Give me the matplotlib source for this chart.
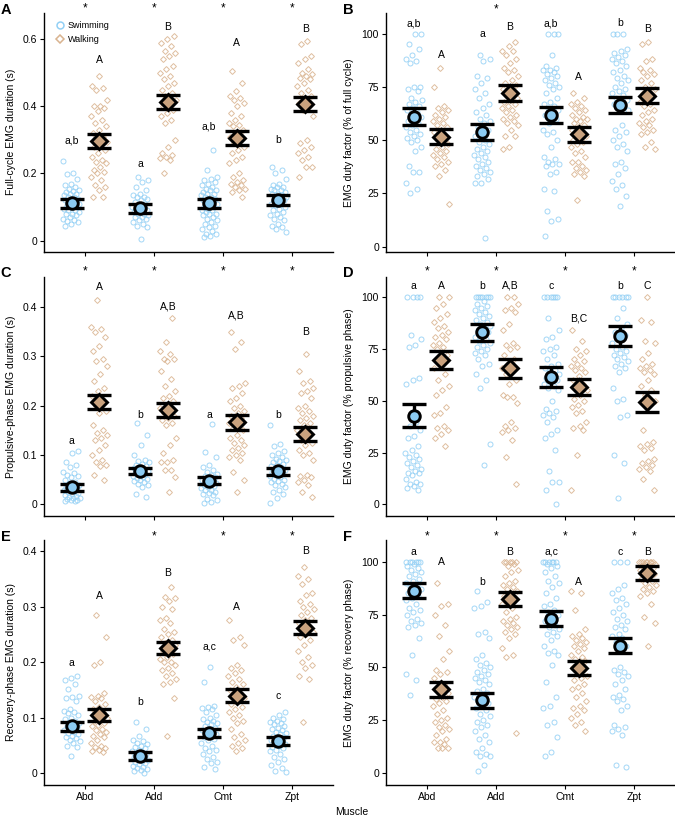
import numpy as np
import matplotlib
matplotlib.use("Agg")
import matplotlib.pyplot as plt
from matplotlib.lines import Line2D

plt.rcParams['font.family'] = ['Liberation Sans', 'DejaVu Sans']

muscles = ["Abd", "Add", "Cmt", "Zpt"]

# ---------------- Panel A: full-cycle EMG duration (s) ----------------
A_swim = [
    [0.237, 0.2, 0.197, 0.185, 0.17, 0.165, 0.16, 0.155, 0.15, 0.148, 0.145, 0.14, 0.14, 0.135, 0.13, 0.13, 0.125,
     0.12, 0.12, 0.118, 0.115, 0.11, 0.11, 0.105, 0.1, 0.1, 0.095, 0.09, 0.09, 0.085, 0.08, 0.08, 0.075, 0.07, 0.065,
     0.06, 0.058, 0.055, 0.05, 0.045],
    [0.19, 0.18, 0.175, 0.16, 0.15, 0.14, 0.135, 0.13, 0.13, 0.125, 0.12, 0.115, 0.11, 0.105, 0.1, 0.1, 0.095, 0.09,
     0.09, 0.085, 0.08, 0.08, 0.075, 0.07, 0.07, 0.065, 0.06, 0.055, 0.05, 0.045, 0.04, 0.005],
    [0.27, 0.21, 0.19, 0.185, 0.18, 0.175, 0.17, 0.165, 0.16, 0.155, 0.15, 0.15, 0.145, 0.14, 0.14, 0.135, 0.13,
     0.13, 0.125, 0.12, 0.12, 0.115, 0.11, 0.11, 0.105, 0.1, 0.1, 0.095, 0.09, 0.09, 0.085, 0.08, 0.08, 0.075, 0.07,
     0.065, 0.06, 0.055, 0.05, 0.045, 0.04, 0.035, 0.03, 0.02, 0.02, 0.015, 0.01],
    [0.22, 0.21, 0.2, 0.185, 0.17, 0.165, 0.16, 0.16, 0.155, 0.15, 0.15, 0.145, 0.14, 0.14, 0.135, 0.13, 0.13, 0.125,
     0.12, 0.12, 0.115, 0.11, 0.11, 0.105, 0.1, 0.095, 0.09, 0.085, 0.08, 0.075, 0.07, 0.065, 0.06, 0.05, 0.045,
     0.04, 0.035, 0.025],
]
A_walk = [
    [0.49, 0.46, 0.455, 0.45, 0.42, 0.40, 0.40, 0.395, 0.385, 0.37, 0.36, 0.35, 0.34, 0.33, 0.32, 0.31, 0.30, 0.295,
     0.29, 0.28, 0.27, 0.26, 0.25, 0.24, 0.235, 0.23, 0.22, 0.21, 0.205, 0.2, 0.19, 0.18, 0.165, 0.16, 0.15, 0.13, 0.13],
    [0.61, 0.6, 0.59, 0.58, 0.565, 0.56, 0.55, 0.54, 0.52, 0.51, 0.5, 0.49, 0.48, 0.47, 0.46, 0.45, 0.44, 0.43, 0.42,
     0.41, 0.40, 0.39, 0.38, 0.37, 0.36, 0.35, 0.30, 0.28, 0.26, 0.255, 0.25, 0.245, 0.24, 0.2],
    [0.505, 0.47, 0.445, 0.43, 0.425, 0.42, 0.41, 0.4, 0.38, 0.37, 0.36, 0.35, 0.345, 0.34, 0.33, 0.32, 0.31, 0.3,
     0.29, 0.28, 0.27, 0.26, 0.25, 0.24, 0.23, 0.2, 0.19, 0.18, 0.175, 0.17, 0.165, 0.16, 0.155, 0.15, 0.145, 0.13],
    [0.595, 0.585, 0.55, 0.54, 0.53, 0.51, 0.50, 0.495, 0.49, 0.485, 0.48, 0.47, 0.46, 0.45, 0.44, 0.43, 0.42, 0.41,
     0.40, 0.39, 0.37, 0.30, 0.29, 0.28, 0.27, 0.26, 0.25, 0.24, 0.22, 0.22, 0.19],
]
A_swim_mean = [0.111, 0.0965, 0.111, 0.121]
A_swim_se = [0.0135, 0.013, 0.014, 0.014]
A_walk_mean = [0.297, 0.412, 0.307, 0.408]
A_walk_se = [0.020, 0.021, 0.021, 0.021]
A_swim_letters = ["a,b", "a", "a,b", "b"]
A_walk_letters = ["A", "B", "A", "B"]
A_sig = [True, True, True, True]

# ---------------- Panel B: duty factor (% of full cycle) ----------------
B_swim = [
    [100, 100, 95, 93, 90, 88, 87, 86, 75, 75, 74, 73, 70, 69, 68, 67, 66, 65, 64, 63, 62, 61, 60, 59, 58, 57, 56,
     55, 54, 53, 52, 51, 50, 49, 47, 45, 38, 35, 35, 30, 27, 25],
    [90, 88, 87, 80, 79, 77, 74, 72, 70, 67, 65, 63, 62, 60, 59, 58, 56, 55, 53, 52, 50, 49, 48, 47, 46, 45, 44, 43,
     42, 41, 40, 39, 38, 37, 36, 35, 34, 33, 32, 30, 30, 4],
    [100, 100, 100, 90, 85, 84, 83, 83, 82, 81, 80, 79, 78, 77, 76, 75, 74, 72, 70, 68, 67, 66, 65, 64, 63, 62, 60,
     58, 55, 54, 53, 50, 47, 42, 41, 40, 39, 39, 38, 35, 34, 27, 26, 17, 13, 12, 5],
    [100, 100, 100, 93, 92, 91, 90, 89, 88, 87, 86, 85, 83, 82, 80, 79, 78, 77, 75, 74, 73, 72, 71, 70, 69, 68, 67,
     66, 65, 64, 57, 55, 54, 52, 50, 48, 47, 45, 40, 39, 37, 34, 31, 29, 27, 24, 19],
]
B_walk = [
    [84, 75, 66, 65, 64, 63, 62, 61, 60, 59, 58, 57, 56, 55, 54, 52, 50, 48, 47, 46, 45, 44, 43, 42, 41, 40, 39, 38,
     36, 33, 20],
    [96, 94, 92, 92, 90, 88, 86, 84, 83, 82, 80, 78, 77, 76, 75, 74, 72, 71, 70, 69, 68, 67, 66, 65, 64, 63, 62, 61,
     60, 59, 58, 57, 55, 52, 52, 47, 46],
    [72, 70, 68, 67, 66, 65, 64, 63, 62, 61, 60, 60, 59, 58, 57, 56, 55, 54, 53, 52, 51, 50, 49, 48, 47, 45, 44, 42,
     40, 40, 38, 37, 36, 35, 34, 33, 22],
    [96, 95, 88, 87, 84, 83, 82, 81, 80, 78, 77, 75, 74, 73, 72, 71, 70, 68, 67, 66, 64, 63, 62, 60, 59, 58, 57, 56,
     55, 54, 53, 49, 47, 46],
]
B_swim_mean = [61.1, 53.8, 61.7, 66.4]
B_swim_se = [4.0, 3.9, 3.85, 3.85]
B_walk_mean = [51.7, 72.1, 52.7, 70.9]
B_walk_se = [3.5, 3.6, 3.6, 3.45]
B_swim_letters = ["a,b", "a", "a,b", "b"]
B_walk_letters = ["A", "B", "A", "B"]
B_sig = [False, True, False, False]

# ---------------- Panel C: propulsive-phase EMG duration (s) ----------------
C_swim = [
    [0.108, 0.105, 0.085, 0.08, 0.075, 0.065, 0.063, 0.06, 0.058, 0.055, 0.05, 0.045, 0.043, 0.04, 0.038, 0.035,
     0.033, 0.03, 0.028, 0.026, 0.024, 0.022, 0.02, 0.018, 0.016, 0.015, 0.013, 0.012, 0.01, 0.009, 0.008, 0.007, 0.006],
    [0.165, 0.14, 0.12, 0.1, 0.09, 0.088, 0.085, 0.082, 0.08, 0.078, 0.076, 0.074, 0.072, 0.07, 0.068, 0.066, 0.064,
     0.062, 0.06, 0.058, 0.056, 0.054, 0.052, 0.05, 0.048, 0.045, 0.042, 0.04, 0.035, 0.02, 0.015],
    [0.163, 0.107, 0.095, 0.08, 0.075, 0.07, 0.065, 0.062, 0.06, 0.058, 0.055, 0.053, 0.05, 0.048, 0.046, 0.044,
     0.042, 0.04, 0.038, 0.036, 0.034, 0.03, 0.028, 0.025, 0.022, 0.02, 0.018, 0.01, 0.008, 0.005, 0.002],
    [0.16, 0.122, 0.118, 0.108, 0.105, 0.1, 0.095, 0.092, 0.09, 0.088, 0.085, 0.082, 0.08, 0.078, 0.075, 0.072, 0.07,
     0.068, 0.065, 0.063, 0.06, 0.058, 0.055, 0.052, 0.05, 0.048, 0.045, 0.042, 0.04, 0.035, 0.03, 0.025, 0.02,
     0.012, 0.003],
]
C_walk = [
    [0.415, 0.36, 0.355, 0.35, 0.34, 0.32, 0.31, 0.295, 0.29, 0.28, 0.265, 0.25, 0.235, 0.23, 0.22, 0.21, 0.2, 0.19,
     0.185, 0.16, 0.15, 0.145, 0.14, 0.135, 0.13, 0.12, 0.11, 0.1, 0.09, 0.085, 0.08, 0.078, 0.06, 0.05],
    [0.378, 0.33, 0.31, 0.305, 0.295, 0.295, 0.29, 0.27, 0.255, 0.24, 0.23, 0.22, 0.215, 0.21, 0.2, 0.195, 0.19,
     0.185, 0.18, 0.175, 0.17, 0.165, 0.16, 0.135, 0.12, 0.105, 0.09, 0.085, 0.085, 0.07, 0.07, 0.055, 0.025],
    [0.35, 0.33, 0.315, 0.245, 0.24, 0.235, 0.225, 0.215, 0.21, 0.2, 0.195, 0.19, 0.185, 0.18, 0.175, 0.17, 0.165,
     0.16, 0.155, 0.15, 0.14, 0.135, 0.13, 0.125, 0.12, 0.115, 0.11, 0.105, 0.1, 0.095, 0.09, 0.065, 0.05, 0.025],
    [0.305, 0.27, 0.25, 0.245, 0.235, 0.23, 0.225, 0.215, 0.2, 0.195, 0.19, 0.185, 0.18, 0.175, 0.17, 0.165, 0.16,
     0.15, 0.14, 0.13, 0.125, 0.12, 0.11, 0.105, 0.1, 0.09, 0.06, 0.058, 0.055, 0.05, 0.045, 0.04, 0.025, 0.015],
]
C_swim_mean = [0.0345, 0.068, 0.048, 0.067]
C_swim_se = [0.0075, 0.0065, 0.007, 0.0068]
C_walk_mean = [0.208, 0.191, 0.166, 0.1425]
C_walk_se = [0.0143, 0.0145, 0.015, 0.0145]
C_swim_letters = ["a", "b", "a", "b"]
C_walk_letters = ["A", "A,B", "A,B", "B"]
C_sig = [True, True, True, True]

# ---------------- Panel D: duty factor (% propulsive phase) ----------------
D_swim = [
    [100, 100, 100, 100, 82, 80, 77, 76, 61, 60, 58, 40, 38, 36, 33, 32, 28, 26, 25, 24, 23, 22, 21, 20, 19, 18, 17,
     16, 15, 15, 14, 12, 11, 10, 10, 9, 8, 7],
    [100, 100, 100, 100, 100, 100, 100, 98, 97, 96, 95, 94, 93, 92, 91, 90, 89, 88, 87, 86, 85, 84, 83, 82, 81, 80,
     79, 78, 77, 76, 75, 74, 73, 72, 70, 68, 67, 63, 60, 56, 29, 19],
    [100, 100, 100, 100, 100, 100, 90, 84, 81, 80, 76, 75, 74, 72, 70, 68, 67, 66, 65, 64, 63, 62, 61, 60, 59, 58,
     57, 56, 55, 50, 46, 45, 44, 43, 42, 40, 36, 34, 32, 26, 16, 11, 11, 7, 0],
    [100, 100, 100, 100, 100, 100, 95, 90, 87, 85, 83, 82, 80, 78, 76, 75, 74, 73, 72, 71, 70, 69, 68, 67, 66, 64,
     56, 51, 50, 43, 42, 24, 20, 3],
]
D_walk = [
    [100, 100, 97, 95, 92, 90, 88, 86, 85, 83, 82, 81, 80, 78, 77, 76, 75, 72, 70, 66, 63, 60, 57, 55, 53, 47, 44,
     43, 38, 37, 36, 34, 32, 28],
    [100, 100, 97, 95, 94, 93, 87, 84, 78, 77, 76, 75, 72, 70, 68, 66, 65, 63, 60, 58, 53, 52, 52, 49, 40, 38, 37,
     36, 35, 31, 23, 10],
    [84, 79, 75, 74, 72, 70, 69, 68, 67, 66, 65, 64, 62, 60, 58, 57, 55, 53, 51, 50, 48, 47, 45, 44, 40, 38, 37, 36,
     24, 7],
    [100, 89, 88, 79, 78, 73, 70, 68, 67, 66, 65, 64, 63, 60, 57, 55, 53, 50, 48, 36, 30, 29, 28, 27, 26, 22, 21, 20,
     19, 18, 17, 16, 12, 7],
]
D_swim_mean = [42.8, 83.1, 61.6, 81.2]
D_swim_se = [5.45, 4.05, 4.75, 4.7]
D_walk_mean = [69.7, 65.7, 56.7, 49.3]
D_walk_se = [4.5, 4.7, 4.0, 4.95]
D_swim_letters = ["a", "b", "c", "b"]
D_walk_letters = ["A", "A,B", "B,C", "C"]
D_sig = [True, True, True, True]

# ---------------- Panel E: recovery-phase EMG duration (s) ----------------
E_swim = [
    [0.175, 0.172, 0.168, 0.16, 0.152, 0.14, 0.138, 0.135, 0.13, 0.115, 0.112, 0.11, 0.108, 0.105, 0.1, 0.098, 0.095,
     0.093, 0.09, 0.088, 0.085, 0.083, 0.08, 0.078, 0.075, 0.072, 0.07, 0.068, 0.065, 0.063, 0.06, 0.058, 0.055,
     0.05, 0.048, 0.032],
    [0.092, 0.08, 0.068, 0.06, 0.058, 0.055, 0.052, 0.05, 0.048, 0.045, 0.042, 0.04, 0.038, 0.036, 0.034, 0.032,
     0.03, 0.028, 0.026, 0.024, 0.022, 0.02, 0.018, 0.016, 0.014, 0.012, 0.01, 0.008, 0.006, 0.004, 0.001],
    [0.192, 0.165, 0.122, 0.12, 0.118, 0.115, 0.11, 0.105, 0.1, 0.098, 0.095, 0.092, 0.09, 0.088, 0.085, 0.082,
     0.08, 0.078, 0.075, 0.072, 0.07, 0.068, 0.065, 0.062, 0.06, 0.055, 0.05, 0.045, 0.042, 0.04, 0.035, 0.03, 0.025,
     0.02, 0.018, 0.012, 0.008],
    [0.11, 0.105, 0.1, 0.098, 0.095, 0.092, 0.09, 0.088, 0.085, 0.082, 0.08, 0.078, 0.075, 0.072, 0.07, 0.068, 0.065,
     0.062, 0.06, 0.058, 0.055, 0.052, 0.05, 0.048, 0.045, 0.042, 0.04, 0.035, 0.03, 0.025, 0.02, 0.015, 0.01,
     0.005, 0.002],
]
E_walk = [
    [0.285, 0.245, 0.2, 0.195, 0.145, 0.14, 0.138, 0.135, 0.13, 0.125, 0.12, 0.115, 0.11, 0.105, 0.1, 0.097, 0.095,
     0.09, 0.087, 0.085, 0.08, 0.078, 0.075, 0.07, 0.068, 0.065, 0.06, 0.055, 0.05, 0.048, 0.045, 0.042, 0.04, 0.038],
    [0.335, 0.318, 0.315, 0.31, 0.3, 0.295, 0.28, 0.275, 0.27, 0.26, 0.255, 0.25, 0.245, 0.24, 0.235, 0.23, 0.225,
     0.22, 0.215, 0.21, 0.205, 0.2, 0.2, 0.195, 0.19, 0.185, 0.18, 0.175, 0.17, 0.165, 0.16, 0.135, 0.068],
    [0.275, 0.245, 0.24, 0.23, 0.195, 0.19, 0.185, 0.18, 0.175, 0.17, 0.165, 0.16, 0.155, 0.15, 0.145, 0.14, 0.135,
     0.13, 0.125, 0.12, 0.115, 0.11, 0.105, 0.1, 0.095, 0.09, 0.08, 0.07, 0.065, 0.06, 0.055, 0.05, 0.045, 0.04],
    [0.372, 0.355, 0.35, 0.34, 0.325, 0.32, 0.31, 0.305, 0.3, 0.295, 0.29, 0.285, 0.28, 0.275, 0.27, 0.265, 0.26,
     0.255, 0.25, 0.245, 0.24, 0.23, 0.22, 0.21, 0.2, 0.195, 0.19, 0.175, 0.17, 0.092],
]
E_swim_mean = [0.085, 0.031, 0.072, 0.0587]
E_swim_se = [0.008, 0.0075, 0.0075, 0.0075]
E_walk_mean = [0.105, 0.225, 0.140, 0.262]
E_walk_se = [0.0113, 0.011, 0.011, 0.0115]
E_swim_letters = ["a", "b", "a,c", "c"]
E_walk_letters = ["A", "B", "A", "B"]
E_sig = [False, True, True, True]

# ---------------- Panel F: duty factor (% recovery phase) ----------------
F_swim = [
    [100, 100, 100, 100, 100, 100, 99, 98, 97, 96, 95, 94, 93, 92, 91, 90, 89, 88, 87, 86, 85, 84, 83, 82, 80, 78,
     77, 76, 75, 73, 72, 71, 70, 69, 64, 56, 47, 44, 37],
    [86, 81, 79, 78, 67, 66, 64, 56, 54, 52, 51, 50, 49, 48, 47, 46, 45, 44, 43, 42, 40, 39, 38, 37, 36, 35, 34, 33,
     32, 31, 30, 28, 27, 25, 24, 23, 22, 20, 18, 16, 15, 12, 10, 9, 8, 8, 4, 1],
    [100, 100, 100, 100, 100, 100, 99, 98, 97, 95, 93, 91, 90, 88, 85, 83, 80, 79, 77, 76, 75, 73, 72, 70, 69, 68,
     67, 66, 65, 63, 60, 58, 57, 56, 51, 43, 36, 32, 31, 24, 23, 17, 10, 8],
    [100, 100, 100, 89, 87, 85, 83, 82, 80, 78, 76, 75, 73, 72, 70, 69, 68, 66, 65, 64, 62, 60, 50, 49, 48, 47, 46,
     44, 42, 40, 37, 36, 35, 34, 32, 30, 23, 22, 21, 20, 18, 4, 3],
]
F_walk = [
    [90, 80, 79, 75, 70, 65, 58, 54, 49, 48, 47, 45, 42, 40, 38, 36, 35, 34, 33, 32, 30, 28, 26, 25, 24, 23, 22, 21,
     20, 18, 16, 15, 15, 14, 12, 12, 12],
    [100, 100, 100, 100, 100, 99, 98, 96, 95, 93, 91, 90, 89, 88, 87, 86, 85, 84, 83, 82, 80, 78, 76, 74, 73, 72,
     71, 70, 69, 68, 67, 66, 64, 59, 56, 55, 19],
    [86, 85, 77, 68, 66, 65, 64, 63, 62, 61, 60, 59, 58, 56, 55, 54, 53, 52, 50, 49, 48, 46, 45, 44, 42, 41, 40, 38,
     36, 34, 32, 31, 30, 28, 26, 24, 23, 20],
    [100, 100, 100, 100, 100, 100, 100, 100, 99, 99, 98, 98, 97, 97, 96, 95, 95, 94, 93, 92, 91, 90, 89, 88, 87, 86,
     85, 84, 80, 74, 71, 60],
]
F_swim_mean = [86.3, 34.5, 73.1, 60.2]
F_swim_se = [3.55, 3.5, 3.7, 3.55]
F_walk_mean = [39.7, 82.5, 49.6, 94.5]
F_walk_se = [3.45, 3.35, 3.3, 3.3]
F_swim_letters = ["a", "b", "a,c", "c"]
F_walk_letters = ["A", "B", "A", "B"]
F_sig = [True, True, True, True]

# letter heights (data units) as placed in the reference
A_swim_ly = [0.297, 0.228, 0.34, 0.30]
A_walk_ly = [0.538, 0.637, 0.588, 0.63]
B_swim_ly = [104.9, 99.8, 104.9, 104.9]
B_walk_ly = [90.0, 103.3, 79.5, 102.0]
C_swim_ly = [0.129, 0.181, 0.181, 0.181]
C_walk_ly = [0.441, 0.402, 0.382, 0.35]
D_swim_ly = [105.6, 105.6, 105.6, 105.6]
D_walk_ly = [105.6, 105.6, 89.9, 105.6]
E_swim_ly = [0.199, 0.129, 0.229, 0.14]
E_walk_ly = [0.319, 0.361, 0.30, 0.40]
F_swim_ly = [104.7, 90.3, 104.7, 104.7]
F_walk_ly = [99.7, 104.7, 90.3, 104.7]

SWIM_C = "#93D0F5"
WALK_C = "#D9B38F"
SWIM_FILL = "#8CCBF2"
WALK_FILL = "#C9A27E"

W, H = 675, 819
fig = plt.figure(figsize=(W / 100, H / 100), dpi=100)

cols = [(44, 333), (386, 675)]
rows = [(12.7, 251.7), (276.7, 516), (540, 784.7)]


def make_ax(col, row):
    x0, x1 = cols[col]
    y0, y1 = rows[row]
    return fig.add_axes([x0 / W, 1 - y1 / H, (x1 - x0) / W, (y1 - y0) / H])


def jitter(n, seed):
    # deterministic low-discrepancy spread for strip points
    k = np.arange(n)
    return ((k * 0.618034 + seed * 0.37) % 1.0 - 0.5) * 0.24


panels = [
    dict(lab="A", col=0, row=0, swim=A_swim, walk=A_walk, sm=A_swim_mean, ss=A_swim_se, wm=A_walk_mean,
         ws=A_walk_se, sl=A_swim_letters, wl=A_walk_letters, sly=A_swim_ly, wly=A_walk_ly, sig=A_sig,
         ylim=(-0.033, 0.679), yt=[0, 0.2, 0.4, 0.6], ytl=["0", "0.2", "0.4", "0.6"], stary=0.692,
         ylabel="Full-cycle EMG duration (s)"),
    dict(lab="B", col=1, row=0, swim=B_swim, walk=B_walk, sm=B_swim_mean, ss=B_swim_se, wm=B_walk_mean,
         ws=B_walk_se, sl=B_swim_letters, wl=B_walk_letters, sly=B_swim_ly, wly=B_walk_ly, sig=B_sig,
         ylim=(-2.3, 109.8), yt=[0, 25, 50, 75, 100], ytl=["0", "25", "50", "75", "100"], stary=111.1,
         ylabel="EMG duty factor (% of full cycle)"),
    dict(lab="C", col=0, row=1, swim=C_swim, walk=C_walk, sm=C_swim_mean, ss=C_swim_se, wm=C_walk_mean,
         ws=C_walk_se, sl=C_swim_letters, wl=C_walk_letters, sly=C_swim_ly, wly=C_walk_ly, sig=C_sig,
         ylim=(-0.0237, 0.4614), yt=[0, 0.1, 0.2, 0.3, 0.4], ytl=["0", "0.1", "0.2", "0.3", "0.4"], stary=0.4716,
         ylabel="Propulsive-phase EMG duration (s)"),
    dict(lab="D", col=1, row=1, swim=D_swim, walk=D_walk, sm=D_swim_mean, ss=D_swim_se, wm=D_walk_mean,
         ws=D_walk_se, sl=D_swim_letters, wl=D_walk_letters, sly=D_swim_ly, wly=D_walk_ly, sig=D_sig,
         ylim=(-5.65, 109.95), yt=[0, 25, 50, 75, 100], ytl=["0", "25", "50", "75", "100"], stary=112.4,
         ylabel="EMG duty factor (% propulsive phase)"),
    dict(lab="E", col=0, row=2, swim=E_swim, walk=E_walk, sm=E_swim_mean, ss=E_swim_se, wm=E_walk_mean,
         ws=E_walk_se, sl=E_swim_letters, wl=E_walk_letters, sly=E_swim_ly, wly=E_walk_ly, sig=E_sig,
         ylim=(-0.0205, 0.4198), yt=[0, 0.1, 0.2, 0.3, 0.4], ytl=["0", "0.1", "0.2", "0.3", "0.4"], stary=0.4257,
         ylabel="Recovery-phase EMG duration (s)"),
    dict(lab="F", col=1, row=2, swim=F_swim, walk=F_walk, sm=F_swim_mean, ss=F_swim_se, wm=F_walk_mean,
         ws=F_walk_se, sl=F_swim_letters, wl=F_walk_letters, sly=F_swim_ly, wly=F_walk_ly, sig=F_sig,
         ylim=(-5.4, 110.25), yt=[0, 25, 50, 75, 100], ytl=["0", "25", "50", "75", "100"], stary=111.8,
         ylabel="EMG duty factor (% recovery phase)"),
]

FS = 7.5
x = np.arange(1, 5)
DODGE = 0.2

for pi, p in enumerate(panels):
    ax = make_ax(p["col"], p["row"])
    for i in range(4):
        sv = np.array(p["swim"][i])
        wv = np.array(p["walk"][i])
        ax.plot(x[i] - DODGE + jitter(len(sv), pi * 8 + i), sv, ls="none", marker="o", ms=3.6, mfc="none",
                mec=SWIM_C, mew=0.7, alpha=0.85, zorder=2)
        ax.plot(x[i] + DODGE + jitter(len(wv), pi * 8 + i + 4), wv, ls="none", marker="D", ms=3.0, mfc="none",
                mec=WALK_C, mew=0.7, alpha=0.85, zorder=2)
    ax.errorbar(x - DODGE, p["sm"], yerr=p["ss"], fmt="none", ecolor="black", elinewidth=2.4, capsize=8.3,
                capthick=2.4, zorder=3)
    ax.errorbar(x + DODGE, p["wm"], yerr=p["ws"], fmt="none", ecolor="black", elinewidth=2.4, capsize=8.3,
                capthick=2.4, zorder=3)
    ax.plot(x - DODGE, p["sm"], ls="none", marker="o", ms=8.3, mfc=SWIM_FILL, mec="black", mew=2.1, zorder=4)
    ax.plot(x + DODGE, p["wm"], ls="none", marker="D", ms=7.8, mfc=WALK_FILL, mec="black", mew=2.1, zorder=4)

    for i in range(4):
        ax.text(x[i] - DODGE, p["sly"][i], p["sl"][i], ha="center", va="center", fontsize=FS)
        ax.text(x[i] + DODGE, p["wly"][i], p["wl"][i], ha="center", va="center", fontsize=FS)
        if p["sig"][i]:
            ax.text(x[i], p["stary"], "*", ha="center", va="center", fontsize=FS + 1, clip_on=False)

    ax.set_xlim(0.4, 4.6)
    ax.set_ylim(*p["ylim"])
    ax.set_yticks(p["yt"])
    ax.set_yticklabels(p["ytl"])
    ax.set_xticks(x)
    if p["row"] == 2:
        ax.set_xticklabels(muscles)
    else:
        ax.set_xticklabels([])
    for s in ["top", "right"]:
        ax.spines[s].set_visible(False)
    for s in ["left", "bottom"]:
        ax.spines[s].set_linewidth(1.0)
    ax.tick_params(axis="both", labelsize=FS, length=3, width=0.8, pad=2, colors="black")
    ax.set_ylabel(p["ylabel"], fontsize=FS)
    lab_x = (11 - 44) / 289 if p["col"] == 0 else (349 - 386) / 289
    ax.yaxis.set_label_coords(lab_x, 0.5)
    ax.yaxis.label.set_va("center")

    if p["lab"] == "A":
        handles = [Line2D([], [], ls="none", marker="o", ms=5, mfc="none", mec=SWIM_C, mew=1.1),
                   Line2D([], [], ls="none", marker="D", ms=4.5, mfc="none", mec=WALK_C, mew=1.1)]
        ax.legend(handles, ["Swimming", "Walking"], loc="upper left", bbox_to_anchor=(0.035, 0.965),
                  frameon=False, fontsize=6.5, handletextpad=0.3, borderaxespad=0, borderpad=0,
                  labelspacing=0.55, handlelength=1.2)

# panel letters
for lab, px, py in [("A", 6, 10), ("B", 348, 10), ("C", 6, 273), ("D", 348, 273), ("E", 6, 537), ("F", 348, 537)]:
    fig.text(px / W, 1 - py / H, lab, fontsize=10.5, fontweight="bold", ha="center", va="center")

fig.text(352 / W, 1 - 812 / H, "Muscle", fontsize=FS, ha="center", va="center")

fig.savefig("out.png", dpi=100)
